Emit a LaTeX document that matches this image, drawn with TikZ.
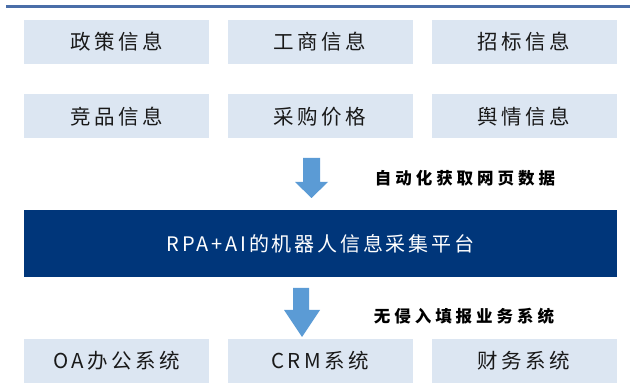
\documentclass[tikz,border=0pt]{standalone}
\usepackage{fontspec}
\setmainfont{Noto Sans CJK SC}
\newfontfamily\boxfont[LetterSpace=17]{Noto Sans CJK SC}
\newfontfamily\lblfont[LetterSpace=24]{Noto Sans CJK SC}
\newfontfamily\platfont[LetterSpace=14]{Noto Sans CJK SC}
\definecolor{lightbox}{HTML}{DCE6F2}
\definecolor{darkbox}{HTML}{00367A}
\definecolor{arrowblue}{HTML}{5B9BD5}
\definecolor{rulecol}{HTML}{4A6EA8}
\tikzset{
  infobox/.style={fill=lightbox, draw=none, minimum width=185pt, minimum height=44pt, inner sep=0pt,
    font=\boxfont\fontsize{20.5}{24}\selectfont, text=black!90},
  platbox/.style={fill=darkbox, draw=none, minimum width=593pt, minimum height=67pt, inner sep=0pt,
    font=\platfont\fontsize{20}{24}\selectfont, text=white},
  steplabel/.style={font=\lblfont\bfseries\fontsize{16.5}{20}\selectfont, text=black, inner sep=0pt},
  bigarrow/.style={fill=arrowblue, draw=none}
}
\begin{document}
\begin{tikzpicture}[x=1pt,y=-1pt]
\useasboundingbox (0,0) rectangle (630,390);
% top rule
\coordinate (ruleL) at (6,6.7);
\coordinate (ruleR) at (630,6.7);
\draw[rulecol, line width=2.5pt] (ruleL) -- (ruleR);
% row 1
\node[infobox] (zc) at (116.5,42) {政策信息};
\node[infobox] (gs) at (320,42) {工商信息};
\node[infobox] (zb) at (524,42) {招标信息};
% row 2
\node[infobox] (jp) at (116.5,116.5) {竞品信息};
\node[infobox] (cg) at (320,116.5) {采购价格};
\node[infobox] (yq) at (524,116.5) {舆情信息};
% platform
\node[platbox] (plat) at (320.5,243.5) {RPA+AI的机器人信息采集平台};
% row 3
\node[infobox] (oa) at (116.5,361) {OA办公系统};
\node[infobox] (crm) at (320,361) {CRM系统};
\node[infobox] (cw) at (524,361) {财务系统};
% arrows
\fill[bigarrow] (303,158) -- (320,158) -- (320,182) -- (328,182) -- (311.5,198) -- (295,182) -- (303,182) -- cycle;
\fill[bigarrow] (293,288) -- (309,288) -- (309,310) -- (320,310) -- (302,337) -- (284,310) -- (293,310) -- cycle;
% labels
\node[steplabel] (l1) at (465,178) {自动化获取网页数据};
\node[steplabel] (l2) at (464,316) {无侵入填报业务系统};
\end{tikzpicture}
\end{document}
